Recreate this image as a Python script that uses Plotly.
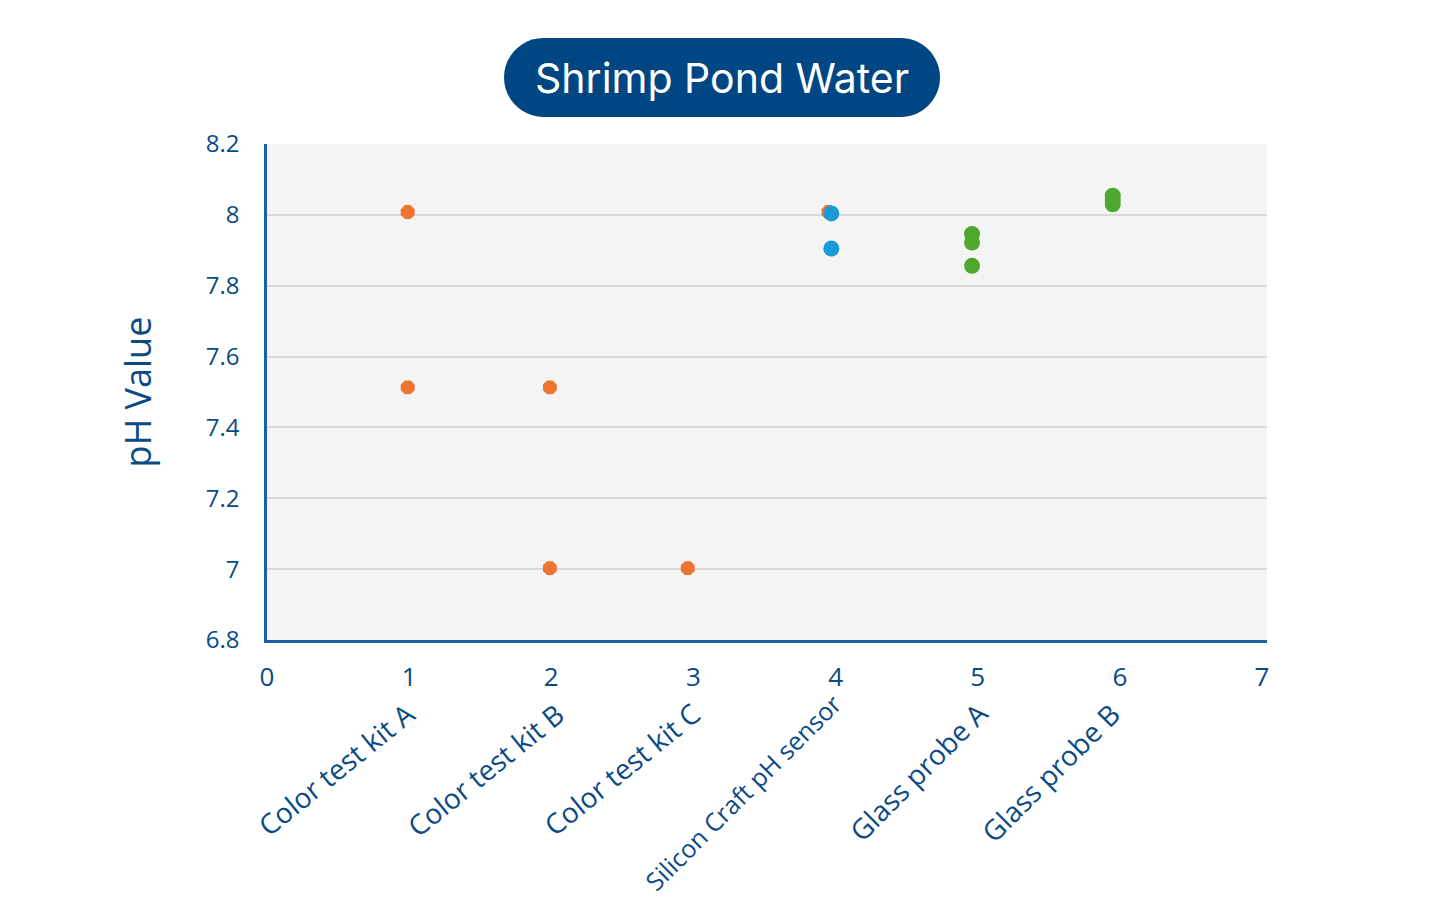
import plotly.graph_objects as go

# ---- data ----
orange_x = [0.99, 0.99, 1.99, 1.99, 2.96, 3.95]
orange_y = [8.008, 7.513, 7.513, 7.003, 7.003, 8.008]
blue_x = [3.97, 3.97]
blue_y = [8.004, 7.905]
green_x = [4.96, 4.96, 4.96, 5.95, 5.95, 5.95]
green_y = [7.946, 7.922, 7.856, 8.054, 8.042, 8.030]

category_labels = ["Color test kit A", "Color test kit B", "Color test kit C",
                   "Silicon Craft pH sensor", "Glass probe A", "Glass probe B"]
category_pos = [1.11, 2.16, 3.12, 4.11, 5.14, 6.08]
y_ticks = [6.8, 7.0, 7.2, 7.4, 7.6, 7.8, 8.0, 8.2]
y_ticktext = ["6.8", "7", "7.2", "7.4", "7.6", "7.8", "8", "8.2"]
x_ticks = [0, 1, 2, 3, 4, 5, 6, 7]

TEXT = "#0b4a85"
AXIS = "#1f5fa8"

OFF = 8  # page body margin
W, H = 1440, 918
L, T = 267 - OFF, 144 - OFF
PW, PH = 1000, 496
R, B = W - L - PW, H - T - PH

def px(x):  # screen pixel -> paper
    return (x - OFF - L) / PW

def py(y):
    return (T + PH - (y - OFF)) / PH

fig = go.Figure()
fig.add_trace(go.Scatter(x=orange_x, y=orange_y, mode="markers",
                         marker=dict(symbol="octagon", size=15, color="#f07431"),
                         showlegend=False))
fig.add_trace(go.Scatter(x=blue_x, y=blue_y, mode="markers",
                         marker=dict(symbol="circle", size=16, color="#1a9ad8"),
                         showlegend=False))
fig.add_trace(go.Scatter(x=green_x, y=green_y, mode="markers",
                         marker=dict(symbol="circle", size=16, color="#4ea72e"),
                         showlegend=False))

# title pill
x0, x1, y0, y1 = 504, 940, 38, 117
r = (y1 - y0) / 2
k = 0.5523 * r
cyc = (y0 + y1) / 2
def P(x, y):
    return f"{px(x):.5f},{py(y):.5f}"
path = (f"M {P(x0 + r, y0)} L {P(x1 - r, y0)} "
        f"C {P(x1 - r + k, y0)} {P(x1, cyc - k)} {P(x1, cyc)} "
        f"C {P(x1, cyc + k)} {P(x1 - r + k, y1)} {P(x1 - r, y1)} "
        f"L {P(x0 + r, y1)} "
        f"C {P(x0 + r - k, y1)} {P(x0, cyc + k)} {P(x0, cyc)} "
        f"C {P(x0, cyc - k)} {P(x0 + r - k, y0)} {P(x0 + r, y0)} Z")
fig.add_shape(type="path", path=path, xref="paper", yref="paper",
              fillcolor="#004682", line=dict(width=0), layer="above")

annotations = [dict(text="Shrimp Pond Water", x=px((x0 + x1) / 2), y=py(cyc + 1),
                    xref="paper", yref="paper", showarrow=False,
                    font=dict(family="Inter", size=41, color="white"),
                    xanchor="center", yanchor="middle")]
for lab, pos in zip(category_labels, category_pos):
    small = lab.startswith("Silicon")
    color_kit = lab.startswith("Color")
    annotations.append(dict(text=lab, x=pos, y=py(684 if small else 692),
                            xref="x", yref="paper", showarrow=False,
                            textangle=-39 if color_kit else -45,
                            font=dict(family="Open Sans", size=25 if small else 28, color=TEXT),
                            xanchor="right", yanchor="top"))

fig.update_layout(
    width=W, height=H,
    margin=dict(l=L, r=R, t=T, b=B),
    paper_bgcolor="white", plot_bgcolor="#f4f4f4",
    annotations=annotations,
    xaxis=dict(range=[0, 7.035], tickvals=x_ticks, showgrid=False, zeroline=False,
               showline=True, linecolor=AXIS, linewidth=2.5,
               ticks="outside", ticklen=12, tickcolor="rgba(0,0,0,0)",
               tickfont=dict(family="Open Sans", size=26, color=TEXT)),
    yaxis=dict(range=[6.8, 8.2], tickvals=y_ticks, ticktext=y_ticktext,
               showgrid=True, gridcolor="#d9d9d9", gridwidth=2, zeroline=False,
               showline=True, linecolor=AXIS, linewidth=2.5,
               ticks="outside", ticklen=20, tickcolor="rgba(0,0,0,0)",
               tickfont=dict(family="Open Sans", size=24, color=TEXT),
               title=dict(text="pH Value", standoff=44,
                          font=dict(family="Open Sans", size=36, color=TEXT))),
)
fig.write_html("out.html")
